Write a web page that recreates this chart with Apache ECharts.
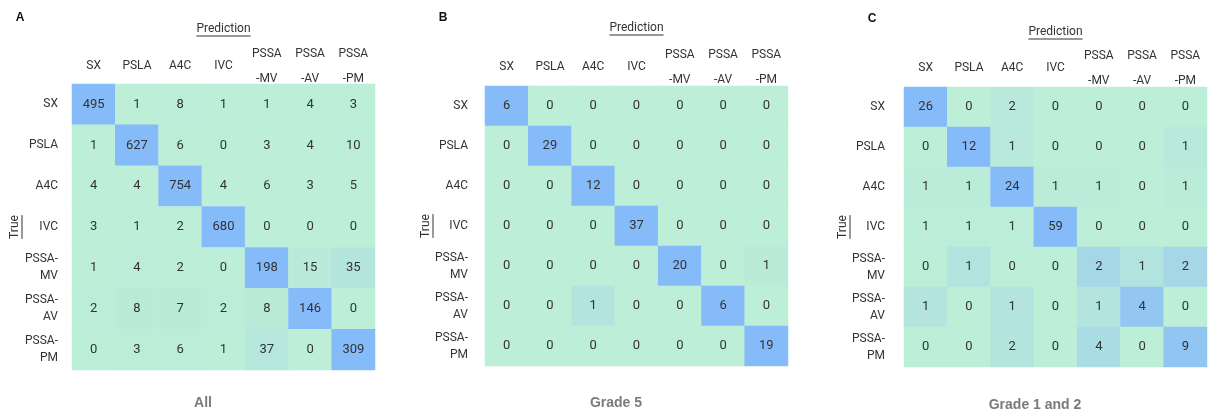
<!DOCTYPE html>
<html>
<head>
<meta charset="utf-8">
<script src="https://cdn.jsdelivr.net/npm/echarts@6/dist/echarts.min.js"></script>
<style>
  html, body { margin: 0; padding: 0; background: #ffffff; }
  #chart { width: 1208px; height: 414px; }
</style>
</head>
<body>
<div id="chart"></div>
<script>
// Class names: prediction columns (top) and true rows (left)
const predLabels = ['SX', 'PSLA', 'A4C', 'IVC', 'PSSA\n-MV', 'PSSA\n-AV', 'PSSA\n-PM'];
const trueLabels = ['SX', 'PSLA', 'A4C', 'IVC', 'PSSA-\nMV', 'PSSA-\nAV', 'PSSA-\nPM'];

// Confusion matrices, one row per true class
const matrixAll = [
  [495, 1, 8, 1, 1, 4, 3],
  [1, 627, 6, 0, 3, 4, 10],
  [4, 4, 754, 4, 6, 3, 5],
  [3, 1, 2, 680, 0, 0, 0],
  [1, 4, 2, 0, 198, 15, 35],
  [2, 8, 7, 2, 8, 146, 0],
  [0, 3, 6, 1, 37, 0, 309]
];
const matrixGrade5 = [
  [6, 0, 0, 0, 0, 0, 0],
  [0, 29, 0, 0, 0, 0, 0],
  [0, 0, 12, 0, 0, 0, 0],
  [0, 0, 0, 37, 0, 0, 0],
  [0, 0, 0, 0, 20, 0, 1],
  [0, 0, 1, 0, 0, 6, 0],
  [0, 0, 0, 0, 0, 0, 19]
];
const matrixGrade12 = [
  [26, 0, 2, 0, 0, 0, 0],
  [0, 12, 1, 0, 0, 0, 1],
  [1, 1, 24, 1, 1, 0, 1],
  [1, 1, 1, 59, 0, 0, 0],
  [0, 1, 0, 0, 2, 1, 2],
  [1, 0, 1, 0, 1, 4, 0],
  [0, 0, 2, 0, 4, 0, 9]
];

const panelTags = ['A', 'B', 'C'];
const panelTitles = ['All', 'Grade 5', 'Grade 1 and 2'];
const matrices = [matrixAll, matrixGrade5, matrixGrade12];

const FONT = "Roboto, 'Liberation Sans', sans-serif";
const BOLD_FONT = "'Liberation Sans', Arial, sans-serif";

// panel geometry
const panels = [
  { left: 72,  top: 84, width: 303, height: 286, yMargin: 14, xMargin: 18, predY: 29, trueX: 15 },
  { left: 485, top: 86, width: 303, height: 280, yMargin: 17, xMargin: 19, predY: 28, trueX: 426 },
  { left: 904, top: 87, width: 303, height: 280, yMargin: 19, xMargin: 19, predY: 32, trueX: 843 }
];
const tagPos = [[20, 18], [443, 18], [872, 19]];
const titleX = [203, 616, 1035];
const titleY = [403, 403, 405];

// heatmap cells carry the count plus its share of the row total (drives the colour)
function toCells(m) {
  const out = [];
  m.forEach((row, r) => {
    const total = row.reduce((a, b) => a + b, 0);
    row.forEach((v, c) => out.push([c, r, v, total ? v / total : 0]));
  });
  return out;
}

const measureCtx = document.createElement('canvas').getContext('2d');
function textWidth(txt, font) {
  measureCtx.font = font;
  return measureCtx.measureText(txt).width;
}

const grids = [], xAxes = [], yAxes = [], series = [], visualMaps = [], graphics = [];

panels.forEach((p, i) => {
  grids.push({ left: p.left, top: p.top, width: p.width, height: p.height, containLabel: false });
  xAxes.push({
    type: 'category', gridIndex: i, position: 'top', data: predLabels,
    axisLine: { show: false }, axisTick: { show: false }, splitArea: { show: false },
    axisLabel: { margin: p.xMargin, verticalAlign: 'middle', color: '#333', fontSize: 12,
                 lineHeight: 25, fontFamily: FONT, interval: 0 }
  });
  yAxes.push({
    type: 'category', gridIndex: i, inverse: true, data: trueLabels,
    axisLine: { show: false }, axisTick: { show: false }, splitArea: { show: false },
    axisLabel: { margin: p.yMargin, color: '#333', fontSize: 12, lineHeight: 17,
                 fontFamily: FONT, interval: 0, align: 'right' }
  });
  series.push({
    type: 'heatmap', xAxisIndex: i, yAxisIndex: i, data: toCells(matrices[i]),
    label: { show: true, color: '#333', fontSize: 13, fontFamily: FONT,
             formatter: (q) => String(q.value[2]) },
    itemStyle: { borderWidth: 0 },
    emphasis: { disabled: true }
  });
  visualMaps.push({
    show: false, type: 'continuous', seriesIndex: i, dimension: 3,
    min: 0, max: 0.75, inRange: { color: ['#bdeed7', '#86bbf9'] }
  });

  const cx = p.left + p.width / 2;
  const cy = p.top + p.height / 2;

  // "Prediction" heading with underline
  const predFont = '12px ' + FONT;
  const pw = textWidth('Prediction', predFont);
  graphics.push({
    type: 'text', x: cx, y: p.predY,
    style: { text: 'Prediction', font: predFont, fill: '#333', align: 'center', verticalAlign: 'middle' }
  });
  graphics.push({
    type: 'line', shape: { x1: cx - pw / 2, y1: p.predY + 7, x2: cx + pw / 2, y2: p.predY + 7 },
    style: { stroke: '#333', lineWidth: 1 }
  });

  // "True" heading, rotated, with underline
  const tw = textWidth('True', predFont);
  graphics.push({
    type: 'group', x: p.trueX, y: cy, rotation: Math.PI / 2,
    children: [
      { type: 'text', x: 0, y: 0,
        style: { text: 'True', font: predFont, fill: '#333', align: 'center', verticalAlign: 'middle' } },
      { type: 'line', shape: { x1: -tw / 2, y1: 7, x2: tw / 2, y2: 7 },
        style: { stroke: '#333', lineWidth: 1 } }
    ]
  });

  // panel tag
  graphics.push({
    type: 'text', x: tagPos[i][0], y: tagPos[i][1],
    style: { text: panelTags[i], font: 'bold 12px ' + BOLD_FONT, fill: '#111',
             align: 'center', verticalAlign: 'middle' }
  });

  // panel caption below the matrix
  graphics.push({
    type: 'text', x: titleX[i], y: titleY[i],
    style: { text: panelTitles[i], font: 'bold 14px ' + BOLD_FONT, fill: '#7a7a7a',
             align: 'center', verticalAlign: 'middle' }
  });
});

const chart = echarts.init(document.getElementById('chart'), null, { renderer: 'canvas' });
chart.setOption({
  animation: false,
  backgroundColor: '#ffffff',
  grid: grids,
  xAxis: xAxes,
  yAxis: yAxes,
  visualMap: visualMaps,
  series: series,
  graphic: graphics
});
</script>
</body>
</html>
